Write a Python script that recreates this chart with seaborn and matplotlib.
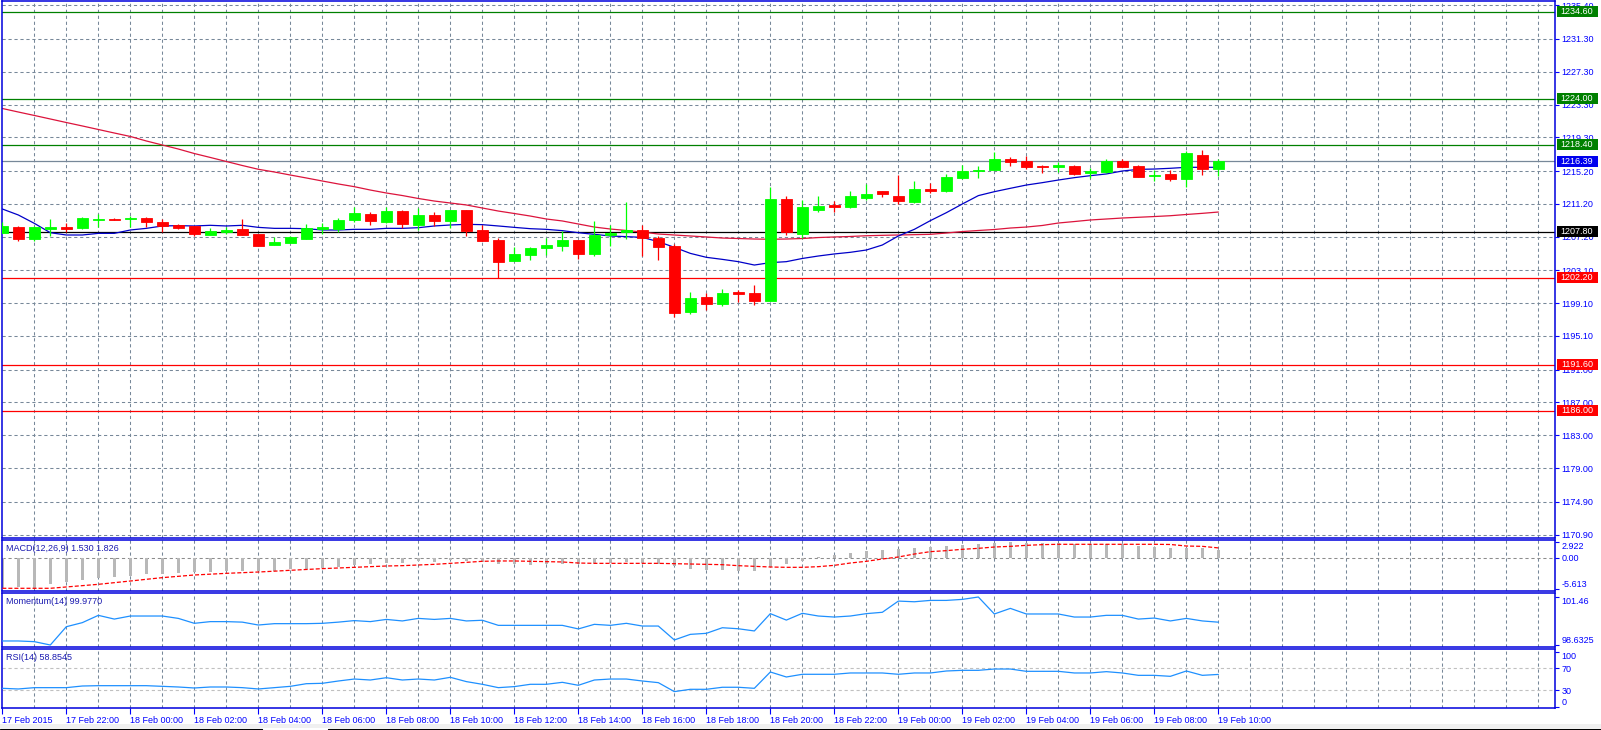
import matplotlib
matplotlib.use("Agg")
import numpy as np
import pandas as pd
import matplotlib.pyplot as plt
import seaborn as sns
from matplotlib.patches import Rectangle
from matplotlib.lines import Line2D

# ---- data (30 min candles, 17 Feb 20:00 -> 19 Feb 10:00) ----
opens = [1207.69, 1208.34, 1206.92, 1208.14, 1208.38, 1208.26, 1209.28, 1209.40, 1209.32, 1209.48,
         1208.99, 1208.59, 1208.47, 1207.45, 1207.73, 1208.14, 1207.53, 1206.23, 1206.47, 1206.96,
         1208.14, 1208.18, 1209.24, 1209.97, 1208.99, 1210.33, 1208.67, 1209.85, 1209.16, 1210.46,
         1208.02, 1206.80, 1204.28, 1205.01, 1205.86, 1206.11, 1206.80, 1205.13, 1207.41, 1207.78,
         1208.02, 1207.08, 1206.07, 1198.06, 1199.89, 1199.00, 1200.50, 1200.34, 1199.40, 1211.80,
         1207.57, 1210.50, 1211.11, 1210.82, 1211.92, 1212.77, 1212.16, 1211.47, 1213.02, 1212.77,
         1214.40, 1215.25, 1215.37, 1216.68, 1216.43, 1215.86, 1215.66, 1215.86, 1214.93, 1215.13,
         1216.43, 1215.82, 1214.64, 1214.89, 1214.28, 1217.20, 1215.41]
highs = [1209.03, 1208.50, 1208.50, 1209.36, 1208.83, 1209.60, 1209.97, 1209.48, 1209.77, 1209.60,
         1209.36, 1208.75, 1208.47, 1208.26, 1208.34, 1209.36, 1207.53, 1207.12, 1207.29, 1208.79,
         1208.83, 1209.44, 1210.82, 1210.21, 1210.82, 1210.40, 1210.74, 1210.21, 1210.50, 1210.50,
         1208.59, 1207.00, 1205.91, 1205.91, 1207.08, 1207.94, 1206.84, 1209.11, 1208.59, 1211.43,
         1208.59, 1207.29, 1206.31, 1200.46, 1200.30, 1200.83, 1200.71, 1201.31, 1213.26, 1212.16,
         1211.64, 1212.21, 1211.55, 1212.77, 1213.59, 1212.80, 1214.72, 1213.99, 1213.71, 1214.85,
         1215.94, 1215.86, 1217.53, 1216.96, 1217.04, 1215.90, 1216.35, 1215.98, 1215.58, 1216.72,
         1216.68, 1215.94, 1215.33, 1215.37, 1217.69, 1217.77, 1216.68]
lows = [1207.60, 1206.72, 1206.72, 1207.33, 1207.73, 1208.14, 1208.34, 1209.20, 1208.34, 1208.34,
        1207.82, 1208.10, 1207.33, 1207.41, 1207.57, 1207.41, 1206.11, 1206.15, 1206.39, 1206.92,
        1207.53, 1207.82, 1209.03, 1208.63, 1208.87, 1208.30, 1208.02, 1208.51, 1208.30, 1207.29,
        1206.72, 1202.21, 1204.24, 1204.36, 1204.97, 1205.46, 1204.48, 1204.85, 1206.07, 1206.96,
        1204.85, 1204.36, 1197.37, 1197.82, 1198.27, 1198.75, 1199.24, 1198.92, 1199.40, 1207.45,
        1207.00, 1210.21, 1210.21, 1210.70, 1211.68, 1212.08, 1211.19, 1211.35, 1212.57, 1212.65,
        1214.28, 1214.40, 1215.33, 1215.86, 1215.50, 1215.01, 1215.09, 1214.72, 1214.36, 1215.01,
        1215.70, 1214.48, 1214.03, 1214.03, 1213.26, 1214.72, 1214.64]
closes = [1208.51, 1206.92, 1208.34, 1208.38, 1208.14, 1209.48, 1209.36, 1209.28, 1209.48, 1208.99,
          1208.47, 1208.30, 1207.57, 1207.90, 1208.02, 1207.45, 1206.11, 1206.56, 1207.12, 1208.26,
          1208.38, 1209.24, 1210.13, 1209.11, 1210.33, 1208.71, 1209.85, 1209.16, 1210.46, 1207.94,
          1206.72, 1204.16, 1205.09, 1205.82, 1206.15, 1206.80, 1205.13, 1207.45, 1207.69, 1208.02,
          1207.00, 1205.99, 1197.94, 1199.73, 1199.04, 1200.30, 1200.26, 1199.40, 1211.80, 1207.73,
          1210.82, 1210.94, 1210.82, 1212.16, 1212.40, 1212.45, 1211.60, 1213.02, 1212.77, 1214.48,
          1215.21, 1215.33, 1216.68, 1216.35, 1215.74, 1215.66, 1215.94, 1214.89, 1215.17, 1216.43,
          1215.74, 1214.52, 1214.76, 1214.28, 1217.41, 1215.41, 1216.39]

ma_fast = [1210.58, 1209.85, 1208.83, 1207.69, 1207.41, 1207.41, 1207.61, 1207.61, 1208.02, 1208.22,
           1208.51, 1208.55, 1208.51, 1208.59, 1208.51, 1208.59, 1208.34, 1208.22, 1208.22, 1208.18,
           1208.02, 1208.02, 1208.10, 1208.10, 1208.22, 1208.22, 1208.30, 1208.51, 1208.63, 1208.71,
           1208.67, 1208.51, 1208.34, 1208.18, 1208.10, 1207.94, 1207.69, 1207.49, 1207.29, 1207.21,
           1207.12, 1206.60, 1205.91, 1205.17, 1204.69, 1204.44, 1204.16, 1203.75, 1204.04, 1204.16,
           1204.55, 1204.85, 1205.10, 1205.30, 1205.58, 1206.19, 1207.29, 1208.10, 1209.16, 1210.13,
           1211.19, 1212.21, 1212.69, 1213.10, 1213.50, 1213.79, 1214.11, 1214.40, 1214.64, 1214.85,
           1215.21, 1215.41, 1215.45, 1215.54, 1215.66, 1215.66, 1215.66]
ma_slow = [1222.83, 1222.40, 1221.98, 1221.55, 1221.12, 1220.70, 1220.27, 1219.84, 1219.42, 1218.87,
           1218.38, 1217.89, 1217.34, 1216.86, 1216.37, 1215.88, 1215.42, 1215.09, 1214.72, 1214.36,
           1213.99, 1213.63, 1213.30, 1212.89, 1212.53, 1212.22, 1211.86, 1211.55, 1211.31, 1211.07,
           1210.70, 1210.33, 1210.03, 1209.72, 1209.36, 1209.12, 1208.75, 1208.38, 1208.14, 1207.96,
           1207.77, 1207.53, 1207.41, 1207.29, 1207.17, 1207.04, 1206.98, 1206.92, 1206.89, 1206.92,
           1206.98, 1207.10, 1207.17, 1207.23, 1207.32, 1207.37, 1207.41, 1207.45, 1207.49, 1207.65,
           1207.83, 1207.96, 1208.08, 1208.26, 1208.38, 1208.57, 1208.87, 1209.05, 1209.24, 1209.36,
           1209.48, 1209.57, 1209.66, 1209.76, 1209.91, 1210.05, 1210.21]

macd_main = [-5.50, -5.19, -5.613, -4.71, -4.41, -3.99, -3.68, -3.38, -3.26, -2.90,
             -2.84, -2.66, -2.48, -2.48, -2.30, -2.30, -2.30, -2.30, -2.05, -1.93,
             -1.75, -1.57, -1.27, -1.03, -0.97, -0.85, -0.56, -0.66, -0.42, -0.56,
             -0.66, -1.03, -1.15, -1.21, -1.15, -1.15, -1.15, -0.91, -0.91, -0.79,
             -0.91, -1.03, -1.45, -1.93, -2.23, -2.23, -2.42, -2.42, -1.63, -1.03,
             -0.50, 0.12, 0.54, 0.91, 1.33, 1.51, 1.63, 1.87, 1.99, 2.17,
             2.36, 2.54, 2.78, 2.922, 2.80, 2.78, 2.72, 2.54, 2.54, 2.54,
             2.54, 2.17, 2.05, 1.81, 1.87, 1.87, 1.530]
macd_signal = [-5.49, -5.49, -5.49, -5.49, -5.25, -5.01, -4.77, -4.47, -4.17, -3.86,
               -3.56, -3.32, -3.08, -2.93, -2.78, -2.66, -2.54, -2.39, -2.23, -2.08,
               -1.93, -1.81, -1.69, -1.57, -1.45, -1.39, -1.27, -1.15, -0.97, -0.79,
               -0.60, -0.54, -0.54, -0.60, -0.66, -0.72, -0.91, -0.97, -0.97, -0.97,
               -0.97, -0.97, -1.03, -1.09, -1.15, -1.21, -1.39, -1.51, -1.63, -1.69,
               -1.69, -1.57, -1.33, -0.91, -0.60, -0.18, 0.18, 0.72, 1.15, 1.33,
               1.57, 1.75, 1.99, 2.11, 2.29, 2.42, 2.48, 2.48, 2.48, 2.48,
               2.48, 2.48, 2.48, 2.45, 2.17, 2.11, 1.826]

momentum = [98.87, 98.87, 98.83, 98.6325, 99.71, 99.95, 100.38, 100.16, 100.34, 100.34,
            100.34, 100.20, 99.91, 100.01, 100.01, 99.98, 99.81, 99.89, 99.89, 99.89,
            99.91, 99.98, 100.07, 100.01, 100.14, 100.05, 100.20, 100.14, 100.20, 100.05,
            100.09, 99.79, 99.79, 99.79, 99.79, 99.79, 99.58, 99.85, 99.79, 99.91,
            99.75, 99.75, 98.93, 99.26, 99.32, 99.65, 99.59, 99.46, 100.48, 100.10,
            100.50, 100.34, 100.28, 100.34, 100.48, 100.56, 101.22, 101.18, 101.26, 101.26,
            101.32, 101.46, 100.46, 100.79, 100.46, 100.46, 100.46, 100.28, 100.28, 100.38,
            100.38, 100.16, 100.22, 100.05, 100.20, 100.05, 99.977]
rsi = [33.6, 32.4, 34.8, 34.8, 34.8, 37.8, 38.4, 38.4, 38.4, 38.4,
       37.2, 36.0, 34.2, 36.0, 36.0, 34.8, 32.4, 34.8, 37.2, 42.0,
       42.7, 46.9, 50.5, 48.7, 52.9, 48.7, 50.5, 48.7, 53.6, 45.8,
       40.9, 34.8, 36.7, 40.9, 40.9, 44.5, 39.1, 48.7, 50.5, 50.5,
       46.9, 43.9, 27.6, 31.8, 31.8, 35.5, 35.5, 33.6, 63.3, 54.2,
       59.1, 59.1, 59.1, 61.5, 61.5, 61.5, 59.1, 61.5, 61.5, 65.1,
       66.3, 66.3, 68.7, 68.7, 64.5, 64.5, 64.5, 61.5, 61.5, 63.9,
       61.5, 57.2, 57.2, 55.4, 65.1, 57.2, 58.8545]

levels = [1234.60, 1224.00, 1218.40, 1216.39, 1207.80, 1202.20, 1191.60, 1186.00]
level_line_colors = ["#008000", "#008000", "#008000", "#778899", "#000000", "#ff0000", "#ff0000", "#ff0000"]
level_box_colors = ["#008000", "#008000", "#008000", "#0000ee", "#000000", "#ff0000", "#ff0000", "#ff0000"]

price_ticks = [1235.40, 1231.30, 1227.30, 1223.30, 1219.30, 1215.20, 1211.20, 1207.20, 1203.10,
               1199.10, 1195.10, 1191.00, 1187.00, 1183.00, 1179.00, 1174.90, 1170.90]

time_tick_pos = [0, 4, 8, 12, 16, 20, 24, 28, 32, 36, 40, 44, 48, 52, 56, 60, 64, 68, 72, 76]
time_tick_labels = ["17 Feb 2015", "17 Feb 22:00", "18 Feb 00:00", "18 Feb 02:00", "18 Feb 04:00",
                    "18 Feb 06:00", "18 Feb 08:00", "18 Feb 10:00", "18 Feb 12:00", "18 Feb 14:00",
                    "18 Feb 16:00", "18 Feb 18:00", "18 Feb 20:00", "18 Feb 22:00", "19 Feb 00:00",
                    "19 Feb 02:00", "19 Feb 04:00", "19 Feb 06:00", "19 Feb 08:00", "19 Feb 10:00"]

df = pd.DataFrame({"open": opens, "high": highs, "low": lows, "close": closes,
                   "ma_fast": ma_fast, "ma_slow": ma_slow, "macd": macd_main,
                   "signal": macd_signal, "momentum": momentum, "rsi": rsi})
df["bar"] = np.arange(len(df))

# ---- style ----
sns.set_theme(style="white")
plt.rcParams["font.family"] = ["Liberation Sans", "DejaVu Sans"]
plt.rcParams["lines.scale_dashes"] = False

BLUE = "#0000ff"
BORDER = "#0000dd"
GRID = "#778899"
FS = 6.5
DASH = (0, (2.3, 2.0))

W, H = 1601, 730
fig = plt.figure(figsize=(W / 100, H / 100), dpi=100)
fig.patch.set_facecolor("white")


def panel(top, bottom):
    return fig.add_axes([2 / W, 1 - bottom / H, 1553 / W, (bottom - top) / H])


ax = panel(1, 538)
ax_macd = panel(540, 591)
ax_mom = panel(593, 647)
ax_rsi = panel(649, 708)
panels = [ax, ax_macd, ax_mom, ax_rsi]

grid_x = np.arange(2, 97, 2)
for a in panels:
    a.set_facecolor("white")
    a.set_xlim(-0.02, 97.04)
    for s in a.spines.values():
        s.set_color(BORDER)
        s.set_linewidth(1.1)
    a.tick_params(left=False, labelleft=False, bottom=False, labelbottom=False)
    a.yaxis.tick_right()
    a.tick_params(axis="y", right=True, labelright=True, length=3, width=0.8, color=BLUE,
                  labelcolor=BLUE, labelsize=FS, pad=1.5, direction="out")
    a.vlines(grid_x, 0, 1, transform=a.get_xaxis_transform(), colors=GRID, lw=0.75,
             linestyles=[DASH], zorder=0.5)

# ---- main price panel ----
ax.set_ylim(1170.48, 1235.93)
ax.hlines(price_ticks, 0, 1, transform=ax.get_yaxis_transform(), colors=GRID, lw=0.75,
          linestyles=[DASH], zorder=0.5)
ax.set_yticks(price_ticks)
ax.set_yticklabels([f"{v:.2f}" for v in price_ticks])

for v, c in zip(levels, level_line_colors):
    ax.axhline(v, color=c, lw=0.9, zorder=1)

sns.lineplot(data=df, x="bar", y="ma_slow", ax=ax, color="#dc143c", lw=0.9, legend=False, zorder=2)
sns.lineplot(data=df, x="bar", y="ma_fast", ax=ax, color="#0000c8", lw=0.9, legend=False, zorder=2)

up = df["close"] >= df["open"]
cols = np.where(up, "#00ff00", "#ff0000")
body_lo = np.minimum(df["open"], df["close"])
body_h = (df["close"] - df["open"]).abs()
ax.vlines(df["bar"], df["low"], df["high"], colors=cols, lw=0.9, zorder=3)
ax.bar(df["bar"], body_h, bottom=body_lo, width=0.67, color=cols, edgecolor=cols,
       linewidth=0.6, zorder=3)

# coloured price boxes for the levels
box_w = 41 / 1553
box_h = 11 / 8.204
for v, c in zip(levels, level_box_colors):
    ax.add_patch(Rectangle((1 + 1.5 / 1553, v - box_h / 2), box_w, box_h, facecolor=c,
                           edgecolor="none", transform=ax.get_yaxis_transform(),
                           clip_on=False, zorder=5))
    ax.text(1 + 1.5 / 1553 + box_w / 2, v, f"{v:.2f}", color="white", fontsize=FS,
            ha="center", va="center", transform=ax.get_yaxis_transform(),
            clip_on=False, zorder=6)

# ---- MACD ----
ax_macd.set_ylim(-5.98, 3.26)
ax_macd.axhline(0, color="#8c8c8c", lw=0.75, ls=DASH, zorder=0.6)
ax_macd.bar(df["bar"], df["macd"], width=0.2, color="#b8b8b8", linewidth=0,
            antialiased=False, zorder=2)
sns.lineplot(data=df, x="bar", y="signal", ax=ax_macd, color="#ff0000", lw=0.9,
             linestyle=(0, (2.9, 1.45)), legend=False, zorder=3)
ax_macd.set_yticks([-5.613, 0.0, 2.922])
ax_macd.set_yticklabels(["-5.613", "0.00", "2.922"])

# ---- Momentum ----
ax_mom.set_ylim(98.515, 101.696)
sns.lineplot(data=df, x="bar", y="momentum", ax=ax_mom, color="#1e90ff", lw=0.9, legend=False, zorder=3)
ax_mom.set_yticks([98.6325, 101.46])
ax_mom.set_yticklabels(["98.6325", "101.46"])

# ---- RSI ----
ax_rsi.set_ylim(-2.2, 105.1)
for lv in (70, 30):
    ax_rsi.axhline(lv, color="#c0c0c0", lw=0.8, ls=DASH, zorder=0.6)
sns.lineplot(data=df, x="bar", y="rsi", ax=ax_rsi, color="#1e90ff", lw=0.9, legend=False, zorder=3)
ax_rsi.set_yticks([0, 30, 70, 100])
ax_rsi.set_yticklabels(["0", "30", "70", "100"])

for a in (ax_macd, ax_mom, ax_rsi):
    labs = a.yaxis.get_ticklabels(which="major")
    labs[0].set_verticalalignment("bottom")
    labs[-1].set_verticalalignment("top")
for a in panels:
    a.set_xlabel("")
    a.set_ylabel("")

ax_rsi.set_xticks(time_tick_pos)
ax_rsi.set_xticklabels(time_tick_labels, ha="left")
ax_rsi.tick_params(axis="x", bottom=True, labelbottom=True, length=4, width=0.8, color=BLUE,
                   labelcolor=BLUE, labelsize=FS, pad=1.5, direction="out")

# indicator captions
captions = [(ax_macd, "MACD(12,26,9) 1.530 1.826"), (ax_mom, "Momentum(14) 99.9770"),
            (ax_rsi, "RSI(14) 58.8545")]
for a, txt in captions:
    a.annotate(txt, xy=(0, 1), xycoords="axes fraction", xytext=(4, -4),
               textcoords="offset pixels", ha="left", va="top", fontsize=FS, color="#1a1ab0")

# terminal tab strip at the very bottom
fig.add_artist(Rectangle((0, 1 - 728.3 / H), 1, 4.5 / H, transform=fig.transFigure,
                         facecolor="#f0f0f0", edgecolor="none"))
for x0, x1 in [(0, 262), (328, W)]:
    fig.add_artist(Line2D([x0 / W, x1 / W], [1 - 728.7 / H] * 2, transform=fig.transFigure,
                          color="black", lw=0.8))
for xv in (262, 328):
    fig.add_artist(Line2D([xv / W] * 2, [1 - 728.7 / H, 0], transform=fig.transFigure,
                          color="black", lw=0.8))

fig.savefig("out.png", dpi=100, facecolor="white")
